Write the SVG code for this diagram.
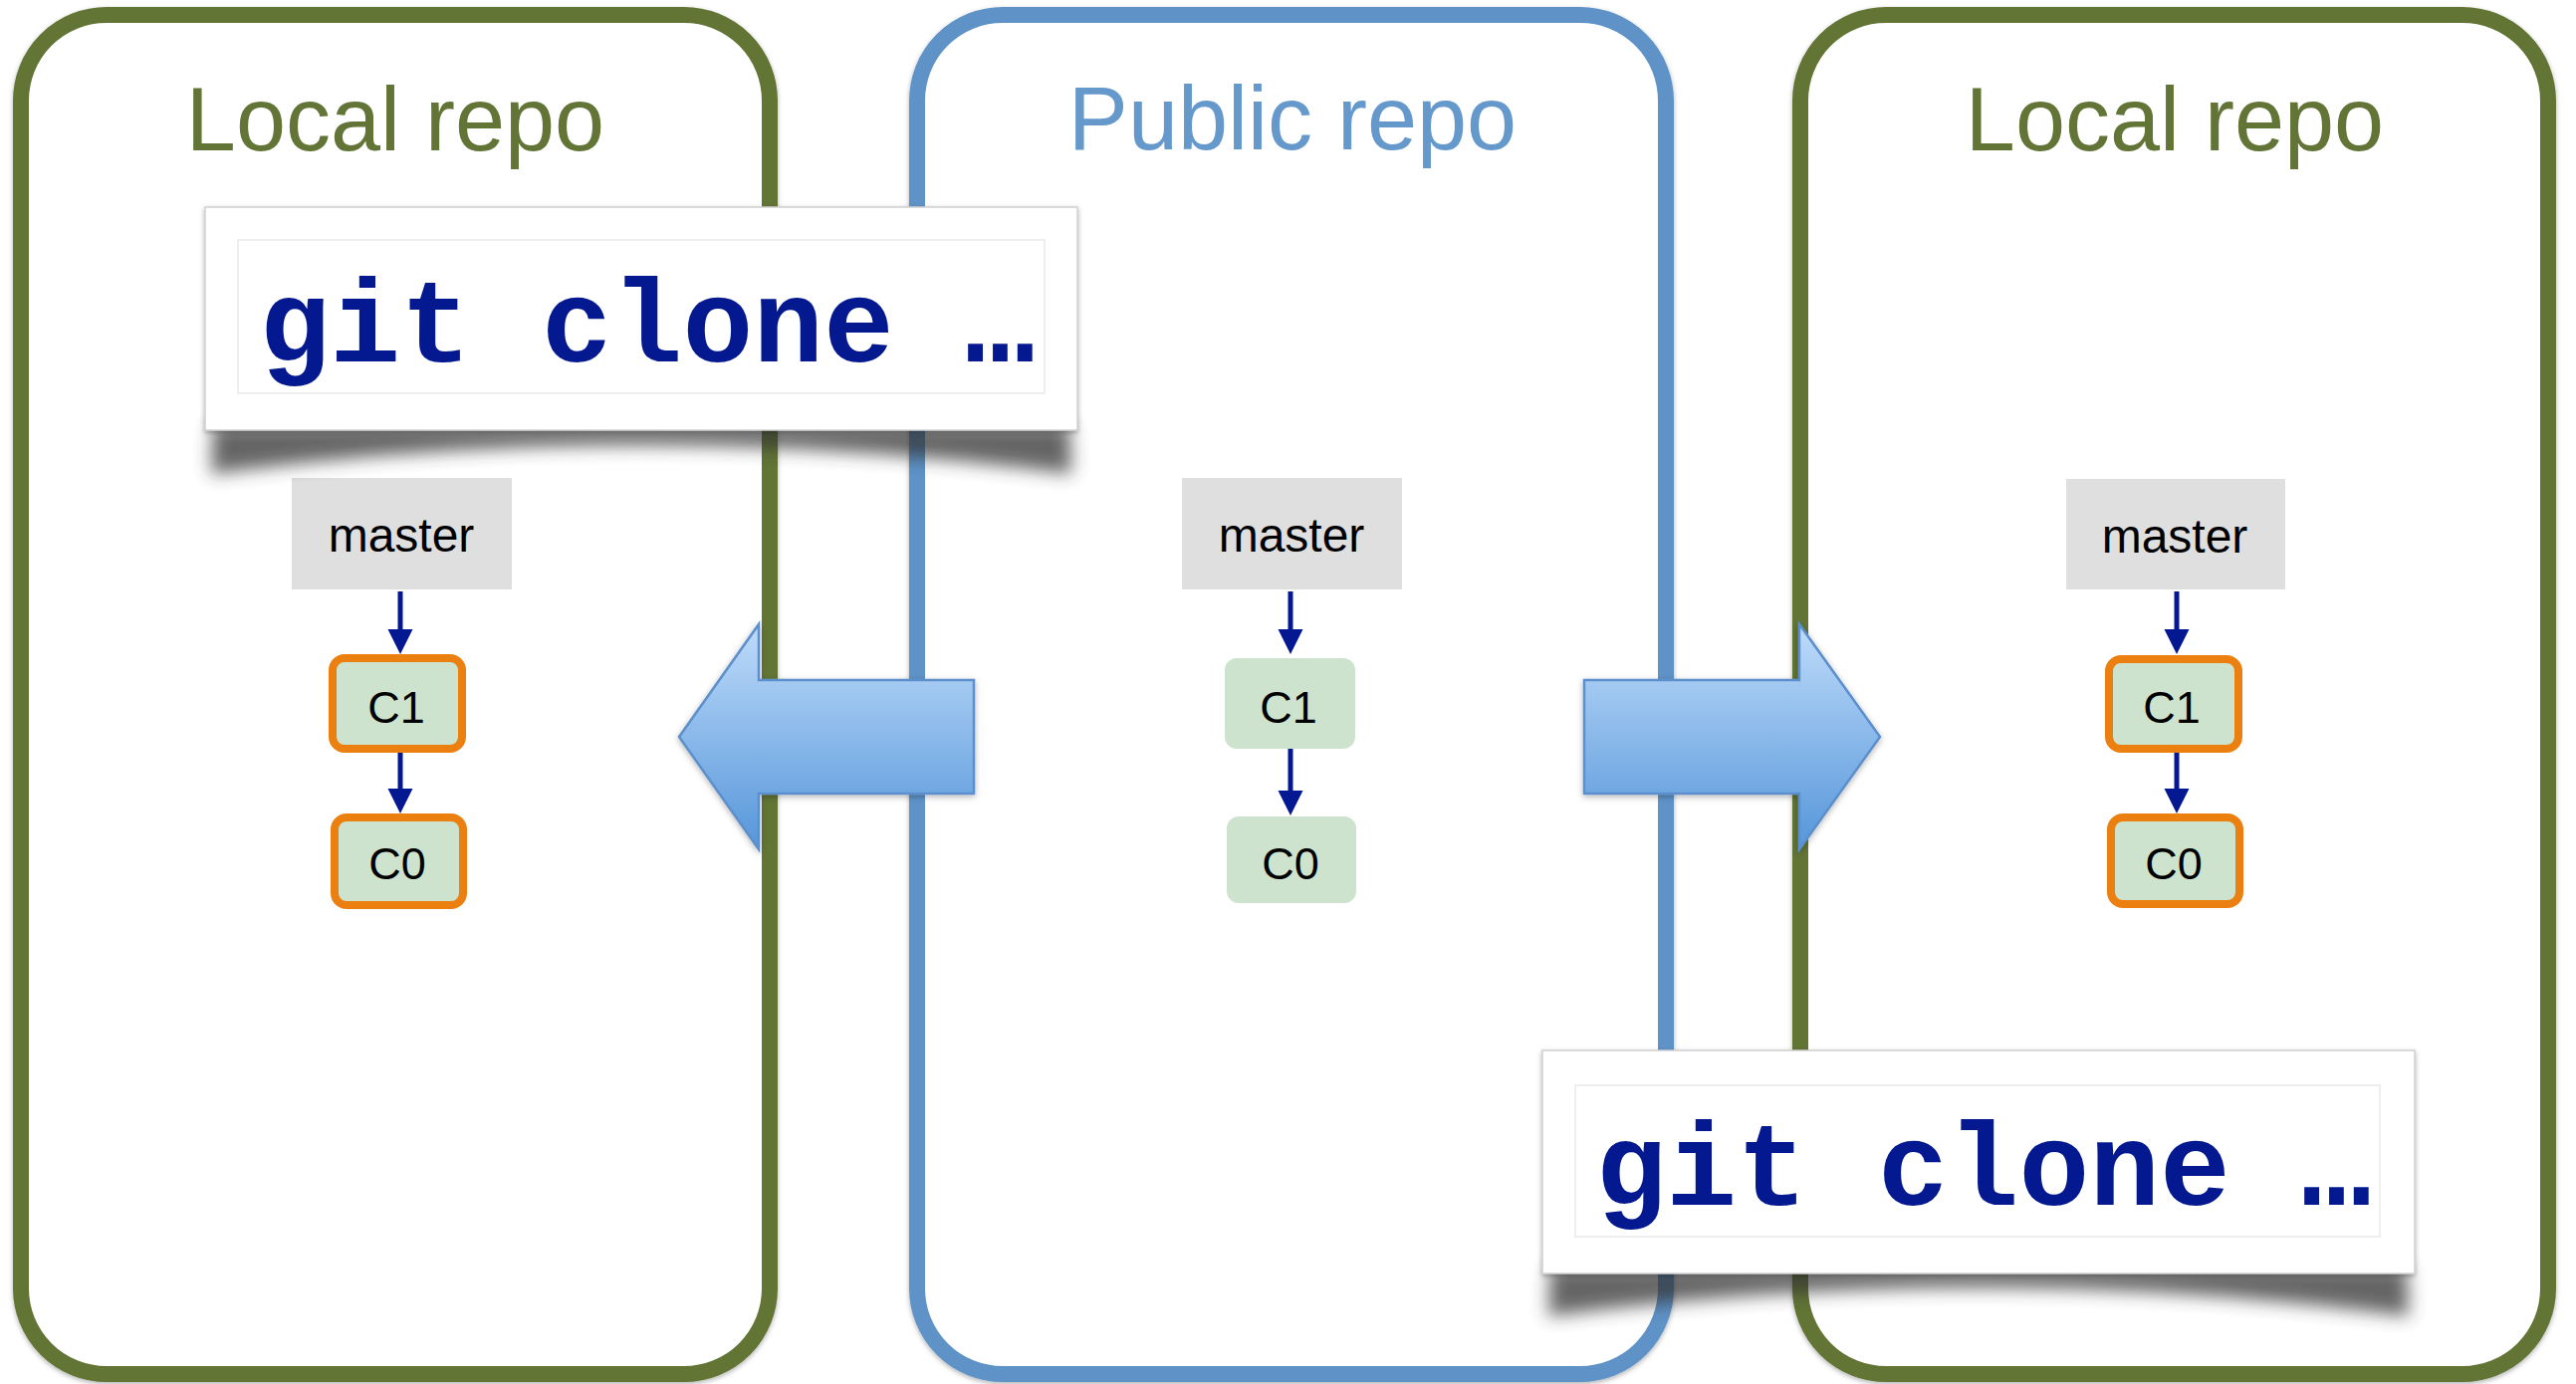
<svg xmlns="http://www.w3.org/2000/svg" width="2587" height="1390" viewBox="0 0 2587 1390">
<defs>
<style>
.panelG{fill:#fff;stroke:#627436;stroke-width:16}
.panelB{fill:#fff;stroke:#5E93C8;stroke-width:16}
.title{font-family:"Liberation Sans",Arial,sans-serif;font-size:90px;text-anchor:middle}
.master{fill:#DFDFDF}
.mtext{font-family:"Liberation Sans",Arial,sans-serif;font-size:48px;text-anchor:middle;fill:#000}
.commit{fill:#CDE3CD}
.commitO{fill:#CDE3CD;stroke:#EB8010;stroke-width:8}
.ctext{font-family:"Liberation Sans",Arial,sans-serif;font-size:45px;text-anchor:middle;fill:#000}
.link{stroke:#031891;stroke-width:5;fill:none;marker-end:url(#ah)}
.big{fill:url(#bg);stroke:#5B8FCC;stroke-width:2.5;stroke-linejoin:miter}
.cmdbox{fill:#fff;stroke:#D0D0D0;stroke-width:1.5}
.cmdinner{fill:none;stroke:#EEEEEE;stroke-width:2}
.cmd{font-family:"Liberation Mono","Courier New",monospace;font-weight:bold;font-size:118px;fill:#041890;text-anchor:middle}
</style>
<marker id="ah" markerUnits="userSpaceOnUse" markerWidth="26" markerHeight="26" refX="5" refY="12.5" orient="auto">
<path d="M0,0 L25,12.5 L0,25 Z" fill="#031891"/>
</marker>
<linearGradient id="bg" x1="0" y1="0" x2="0" y2="1">
<stop offset="0" stop-color="#BFDBFA"/>
<stop offset="1" stop-color="#5596DA"/>
</linearGradient>
<filter id="ps" x="-5%" y="-5%" width="110%" height="110%">
<feDropShadow dx="0" dy="2" stdDeviation="2.5" flood-color="#000" flood-opacity="0.3"/>
</filter>
<filter id="as" x="-10%" y="-10%" width="120%" height="120%">
<feDropShadow dx="0" dy="2" stdDeviation="3" flood-color="#000" flood-opacity="0.3"/>
</filter>
<filter id="curl" x="-10%" y="-50%" width="120%" height="200%">
<feGaussianBlur stdDeviation="9"/>
</filter>
</defs>

<g id="panel-left-local">
<rect class="panelG" x="21" y="15" width="752" height="1365" rx="86" ry="86" filter="url(#ps)"/>
<text class="title" x="397" y="151" fill="#627436">Local repo</text>
</g>
<g id="panel-public">
<rect class="panelB" x="921" y="15" width="752" height="1365" rx="86" ry="86" filter="url(#ps)"/>
<text class="title" x="1298" y="150" fill="#6598CB">Public repo</text>
</g>
<g id="panel-right-local">
<rect class="panelG" x="1808" y="15" width="751" height="1365" rx="86" ry="86" filter="url(#ps)"/>
<text class="title" x="2184" y="151" fill="#627436">Local repo</text>
</g>

<g id="left-master">
<rect class="master" x="293" y="480" width="221" height="112"/>
<text class="mtext" x="403" y="554">master</text>
</g>
<g id="left-c1">
<rect class="commitO" x="334" y="661" width="130" height="91" rx="12"/>
<text class="ctext" x="398" y="726">C1</text>
</g>
<g id="left-c0">
<rect class="commitO" x="336" y="821" width="129" height="88" rx="12"/>
<text class="ctext" x="399" y="883">C0</text>
</g>

<g id="public-master">
<rect class="master" x="1187" y="480" width="221" height="112"/>
<text class="mtext" x="1297" y="554">master</text>
</g>
<g id="public-c1">
<rect class="commit" x="1230" y="661" width="131" height="91" rx="12"/>
<text class="ctext" x="1294" y="726">C1</text>
</g>
<g id="public-c0">
<rect class="commit" x="1232" y="820" width="130" height="87" rx="12"/>
<text class="ctext" x="1296" y="883">C0</text>
</g>

<g id="right-master">
<rect class="master" x="2075" y="481" width="220" height="111"/>
<text class="mtext" x="2184" y="555">master</text>
</g>
<g id="right-c1">
<rect class="commitO" x="2118" y="662" width="130" height="90" rx="12"/>
<text class="ctext" x="2181" y="726">C1</text>
</g>
<g id="right-c0">
<rect class="commitO" x="2120" y="821" width="129" height="87" rx="12"/>
<text class="ctext" x="2183" y="883">C0</text>
</g>

<g id="connectors">
<line class="link" x1="402" y1="594" x2="402" y2="637"/>
<line class="link" x1="402" y1="756" x2="402" y2="797"/>
<line class="link" x1="1296" y1="594" x2="1296" y2="637"/>
<line class="link" x1="1296" y1="752" x2="1296" y2="799"/>
<line class="link" x1="2186" y1="594" x2="2186" y2="637"/>
<line class="link" x1="2186" y1="756" x2="2186" y2="797"/>
</g>

<g id="clone-arrow-left">
<polygon class="big" filter="url(#as)" points="978,683 762,683 762,627 682,740 762,853 762,797 978,797"/>
</g>
<g id="clone-arrow-right">
<polygon class="big" filter="url(#as)" points="1591,683 1807,683 1807,627 1888,740 1807,853 1807,797 1591,797"/>
</g>

<g id="cmd-left">
<path d="M214,426 L212,476 Q644,418 1076,476 L1074,426 Z" fill="#333" opacity="0.75" filter="url(#curl)"/>
<rect class="cmdbox" x="206" y="208" width="876" height="224" filter="url(#ps)"/>
<rect class="cmdinner" x="239" y="241" width="810" height="154"/>
<text class="cmd" x="650" y="363">git clone …</text>
</g>
<g id="cmd-right">
<path d="M1557,1272 L1555,1322 Q1987,1264 2419,1322 L2417,1272 Z" fill="#333" opacity="0.75" filter="url(#curl)"/>
<rect class="cmdbox" x="1549" y="1055" width="876" height="224" filter="url(#ps)"/>
<rect class="cmdinner" x="1582" y="1090" width="808" height="152"/>
<text class="cmd" x="1992" y="1210">git clone …</text>
</g>
</svg>
